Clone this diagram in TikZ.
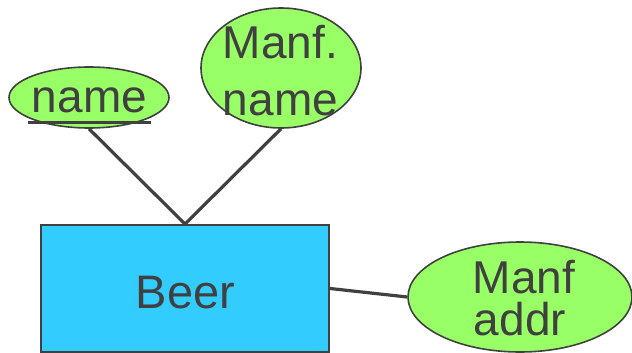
\documentclass[tikz,border=0pt]{standalone}
\usepackage{fontspec}
\setmainfont{Liberation Sans}
\usetikzlibrary{shapes.geometric}
\definecolor{edge}{HTML}{404040}
\definecolor{attrgreen}{HTML}{99FF66}
\definecolor{entblue}{HTML}{33CCFF}
\begin{document}
\begin{tikzpicture}[x=1pt,y=-1pt,
  attr/.style={ellipse, draw=edge, fill=attrgreen, line width=1.6pt, inner sep=0pt},
  ent/.style={rectangle, draw=edge, fill=entblue, line width=2pt, inner sep=0pt},
  lbl/.style={text=edge, inner sep=0pt, anchor=base},
  link/.style={draw=edge, line width=3.2pt}]
\useasboundingbox (0,0) rectangle (632,353);

% entity
\node[ent, minimum width=288pt, minimum height=127pt] (beer) at (185,288.5) {};
\node[lbl, font=\fontsize{47}{47}\selectfont] (beerT) at (185.5,308) {Beer};

% attributes
\node[attr, minimum width=160pt, minimum height=61pt] (nameE) at (89,97.5) {};
\node[lbl, font=\fontsize{46}{46}\selectfont] (nameT) at (89.5,113) {name};
\draw[edge, line width=3pt] (28,122) coordinate (ulA) -- (151,122) coordinate (ulB);

\node[attr, minimum width=160pt, minimum height=120pt] (manfE) at (281,68) {};
\node[lbl, font=\fontsize{46}{46}\selectfont] (manfT1) at (280.5,59) {Manf.};
\node[lbl, font=\fontsize{46}{46}\selectfont] (manfT2) at (280.5,115) {name};

\node[attr, minimum width=224pt, minimum height=110pt] (addrE) at (520,297) {};
\node[lbl, font=\fontsize{46}{46}\selectfont] (addrT1) at (524,293) {Manf};
\node[lbl, font=\fontsize{46}{46}\selectfont] (addrT2) at (520,335) {addr};

% relationships
\draw[link] (nameE.south) -- (beer.north);
\draw[link] (manfE.south) -- (beer.north);
\draw[link] (beer.east) -- (addrE.west);
\end{tikzpicture}
\end{document}
